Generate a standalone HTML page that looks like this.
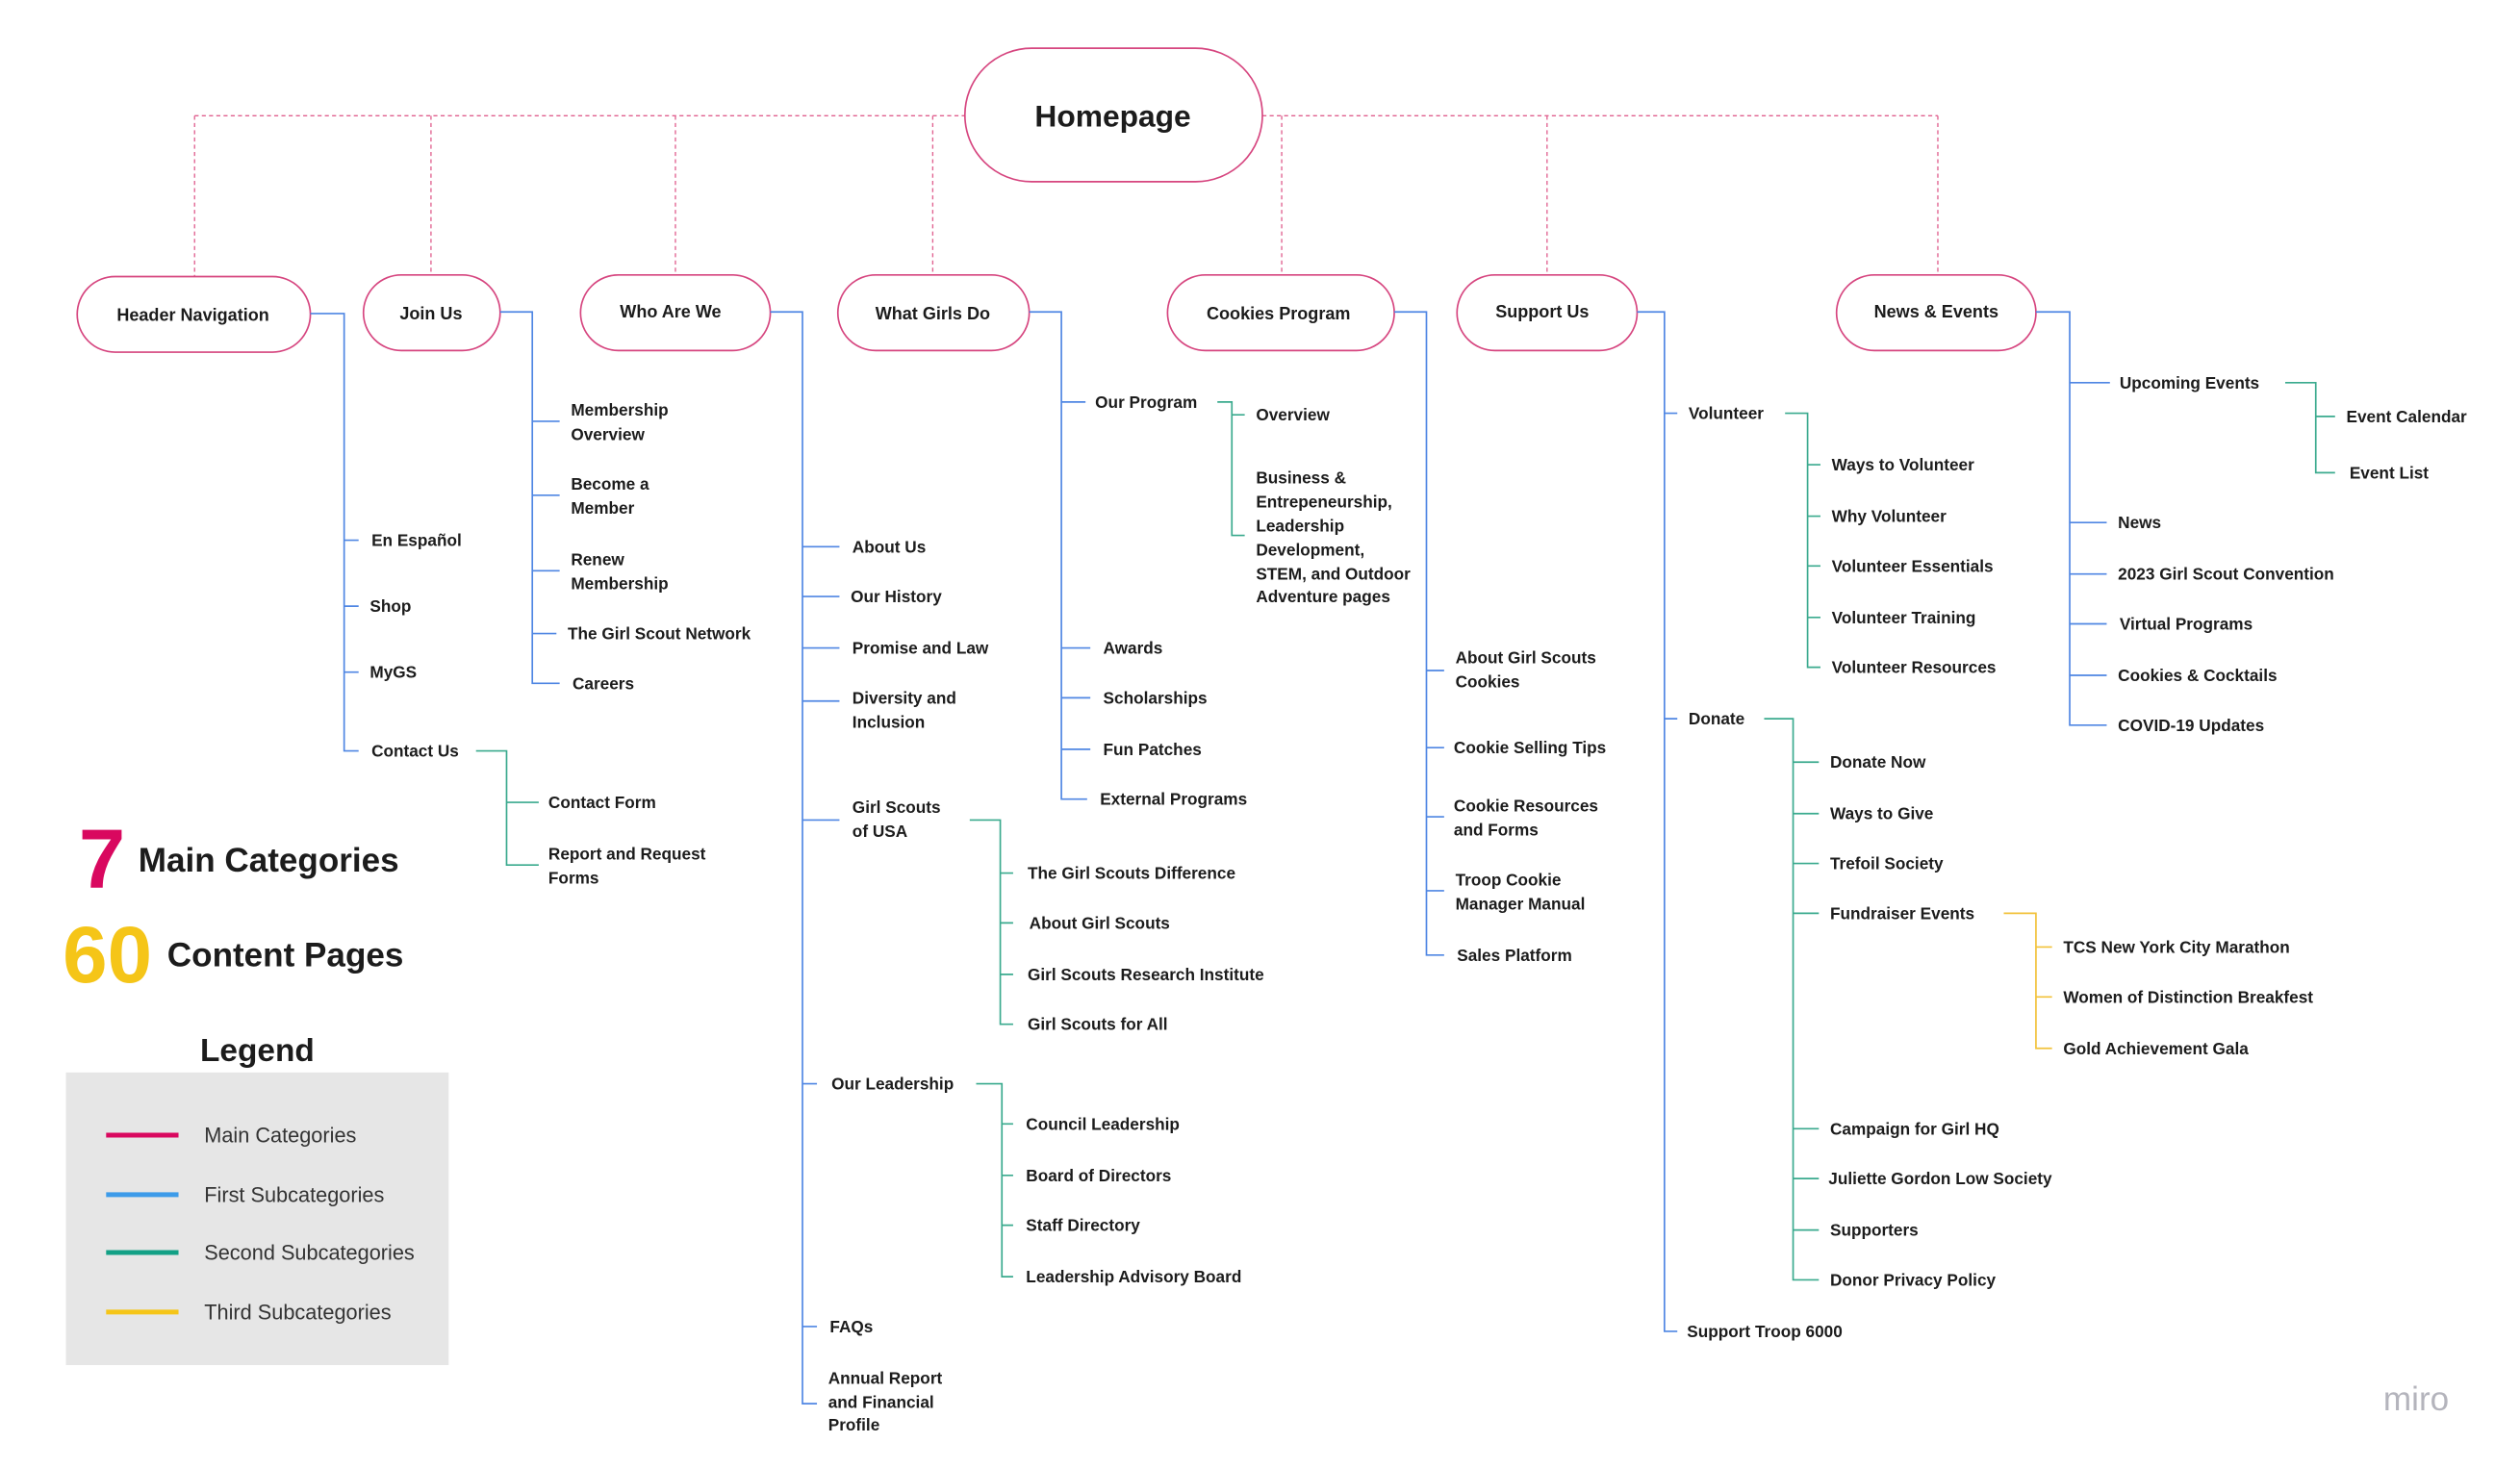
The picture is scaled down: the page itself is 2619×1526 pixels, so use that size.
<!DOCTYPE html>
<html><head><meta charset="utf-8"><style>
html,body{margin:0;padding:0;background:#fff;width:2619px;height:1526px;overflow:hidden}
svg{display:block}
.t{font-family:"Liberation Sans",sans-serif;font-weight:bold;font-size:10.3px;fill:#1c1c1c;dominant-baseline:central}
.n{font-family:"Liberation Sans",sans-serif;font-weight:bold;font-size:10.8px;fill:#1c1c1c;dominant-baseline:central;text-anchor:middle}
.node{fill:#fff;stroke:#d6457f;stroke-width:1}
.b{fill:none;stroke:#4f86e3;stroke-width:1}
.g{fill:none;stroke:#3aaa8e;stroke-width:1}
.y{fill:none;stroke:#f2c23a;stroke-width:1}
.d{fill:none;stroke:#e0608f;stroke-width:0.8;stroke-dasharray:2.5 2}
.lg{font-family:"Liberation Sans",sans-serif;font-size:13px;fill:#333;dominant-baseline:central}
</style></head><body>
<svg width="2619" height="1526" viewBox="0 0 1567 913" preserveAspectRatio="none" xmlns="http://www.w3.org/2000/svg">
<path class="d" d="M121 72H600M785 72H1205M121 72V172M268 72V171M420 72V171M580 72V171M797 72V171M962 72V171M1205 72V171"/>
<rect class="node" x="600" y="30" width="185" height="83" rx="41.5"/>
<text class="n" x="692" y="72" style="font-size:19px">Homepage</text>

<rect class="node" x="48" y="172" width="145" height="47" rx="23.5"/><text class="n" x="120" y="196">Header Navigation</text>
<rect class="node" x="226" y="171" width="85" height="47" rx="23.5"/><text class="n" x="268" y="195">Join Us</text>
<rect class="node" x="361" y="171" width="118" height="47" rx="23.5"/><text class="n" x="417" y="194">Who Are We</text>
<rect class="node" x="521" y="171" width="119" height="47" rx="23.5"/><text class="n" x="580" y="195">What Girls Do</text>
<rect class="node" x="726" y="171" width="141" height="47" rx="23.5"/><text class="n" x="795" y="195">Cookies Program</text>
<rect class="node" x="906" y="171" width="112" height="47" rx="23.5"/><text class="n" x="959" y="194">Support Us</text>
<rect class="node" x="1142" y="171" width="124" height="47" rx="23.5"/><text class="n" x="1204" y="194">News &amp; Events</text>

<path class="b" d="M193 195H214V467H223M214 336H223M214 377H223M214 418H223"/>
<text class="t" x="231" y="336">En Español</text>
<text class="t" x="230" y="377">Shop</text>
<text class="t" x="230" y="418">MyGS</text>
<text class="t" x="231" y="467">Contact Us</text>
<path class="g" d="M296 467H315V538H335M315 499H335"/>
<text class="t" x="341" y="499">Contact Form</text>
<text class="t" x="341" y="531">Report and Request</text>
<text class="t" x="341" y="546">Forms</text>

<path class="b" d="M311 194H331V425H348M331 262H348M331 308H348M331 355H348M331 394H346"/>
<text class="t" x="355" y="255">Membership</text><text class="t" x="355" y="270">Overview</text>
<text class="t" x="355" y="301">Become a</text><text class="t" x="355" y="316">Member</text>
<text class="t" x="355" y="348">Renew</text><text class="t" x="355" y="363">Membership</text>
<text class="t" x="353" y="394">The Girl Scout Network</text>
<text class="t" x="356" y="425">Careers</text>

<path class="b" d="M479 194H499V873H508M499 340H522M499 371H522M499 403H522M499 436H522M499 510H522M499 674H508M499 825H508"/>
<text class="t" x="530" y="340">About Us</text>
<text class="t" x="529" y="371">Our History</text>
<text class="t" x="530" y="403">Promise and Law</text>
<text class="t" x="530" y="434">Diversity and</text><text class="t" x="530" y="449">Inclusion</text>
<text class="t" x="530" y="502">Girl Scouts</text><text class="t" x="530" y="517">of USA</text>
<text class="t" x="517" y="674">Our Leadership</text>
<text class="t" x="516" y="825">FAQs</text>
<text class="t" x="515" y="857">Annual Report</text><text class="t" x="515" y="872">and Financial</text><text class="t" x="515" y="886">Profile</text>
<path class="g" d="M603 510H622V637H630M622 543H630M622 574H630M622 606H630"/>
<text class="t" x="639" y="543">The Girl Scouts Difference</text>
<text class="t" x="640" y="574">About Girl Scouts</text>
<text class="t" x="639" y="606">Girl Scouts Research Institute</text>
<text class="t" x="639" y="637">Girl Scouts for All</text>
<path class="g" d="M607 674H623V794H630M623 699H630M623 731H630M623 762H630"/>
<text class="t" x="638" y="699">Council Leadership</text>
<text class="t" x="638" y="731">Board of Directors</text>
<text class="t" x="638" y="762">Staff Directory</text>
<text class="t" x="638" y="794">Leadership Advisory Board</text>

<path class="b" d="M640 194H660V497H676M660 250H675M660 403H678M660 434H678M660 466H678"/>
<text class="t" x="681" y="250">Our Program</text>
<text class="t" x="686" y="403">Awards</text>
<text class="t" x="686" y="434">Scholarships</text>
<text class="t" x="686" y="466">Fun Patches</text>
<text class="t" x="684" y="497">External Programs</text>
<path class="g" d="M757 250H766V333H774M766 258H774"/>
<text class="t" x="781" y="258">Overview</text>
<text class="t" x="781" y="297">Business &amp;</text>
<text class="t" x="781" y="312">Entrepeneurship,</text>
<text class="t" x="781" y="327">Leadership</text>
<text class="t" x="781" y="342">Development,</text>
<text class="t" x="781" y="357">STEM, and Outdoor</text>
<text class="t" x="781" y="371">Adventure pages</text>

<path class="b" d="M867 194H887V594H898M887 417H898M887 465H898M887 508H898M887 554H898"/>
<text class="t" x="905" y="409">About Girl Scouts</text><text class="t" x="905" y="424">Cookies</text>
<text class="t" x="904" y="465">Cookie Selling Tips</text>
<text class="t" x="904" y="501">Cookie Resources</text><text class="t" x="904" y="516">and Forms</text>
<text class="t" x="905" y="547">Troop Cookie</text><text class="t" x="905" y="562">Manager Manual</text>
<text class="t" x="906" y="594">Sales Platform</text>

<path class="b" d="M1018 194H1035V828H1043M1035 257H1043M1035 447H1043"/>
<text class="t" x="1050" y="257">Volunteer</text>
<text class="t" x="1050" y="447">Donate</text>
<text class="t" x="1049" y="828">Support Troop 6000</text>
<path class="g" d="M1110 257H1124V415H1132M1124 289H1132M1124 321H1132M1124 352H1132M1124 384H1132"/>
<text class="t" x="1139" y="289">Ways to Volunteer</text>
<text class="t" x="1139" y="321">Why Volunteer</text>
<text class="t" x="1139" y="352">Volunteer Essentials</text>
<text class="t" x="1139" y="384">Volunteer Training</text>
<text class="t" x="1139" y="415">Volunteer Resources</text>
<path class="g" d="M1097 447H1115V796H1131M1115 474H1131M1115 506H1131M1115 537H1131M1115 568H1131M1115 702H1131M1115 733H1131M1115 765H1131"/>
<text class="t" x="1138" y="474">Donate Now</text>
<text class="t" x="1138" y="506">Ways to Give</text>
<text class="t" x="1138" y="537">Trefoil Society</text>
<text class="t" x="1138" y="568">Fundraiser Events</text>
<text class="t" x="1138" y="702">Campaign for Girl HQ</text>
<text class="t" x="1137" y="733">Juliette Gordon Low Society</text>
<text class="t" x="1138" y="765">Supporters</text>
<text class="t" x="1138" y="796">Donor Privacy Policy</text>
<path class="y" d="M1246 568H1266V652H1276M1266 589H1276M1266 620H1276"/>
<text class="t" x="1283" y="589">TCS New York City Marathon</text>
<text class="t" x="1283" y="620">Women of Distinction Breakfest</text>
<text class="t" x="1283" y="652">Gold Achievement Gala</text>

<path class="b" d="M1266 194H1287V451H1310M1287 238H1312M1287 325H1310M1287 357H1310M1287 388H1310M1287 420H1310"/>
<text class="t" x="1318" y="238">Upcoming Events</text>
<text class="t" x="1317" y="325">News</text>
<text class="t" x="1317" y="357">2023 Girl Scout Convention</text>
<text class="t" x="1318" y="388">Virtual Programs</text>
<text class="t" x="1317" y="420">Cookies &amp; Cocktails</text>
<text class="t" x="1317" y="451">COVID-19 Updates</text>
<path class="g" d="M1421 238H1440V294H1452M1440 259H1452"/>
<text class="t" x="1459" y="259">Event Calendar</text>
<text class="t" x="1461" y="294">Event List</text>

<text x="49" y="552" style="font-family:'Liberation Sans',sans-serif;font-weight:bold;font-size:52px;fill:#d9085f">7</text>
<text x="86" y="542" style="font-family:'Liberation Sans',sans-serif;font-weight:bold;font-size:21px;fill:#1c1c1c">Main Categories</text>
<text x="39" y="611" style="font-family:'Liberation Sans',sans-serif;font-weight:bold;font-size:50px;fill:#f5c518">60</text>
<text x="104" y="601" style="font-family:'Liberation Sans',sans-serif;font-weight:bold;font-size:21px;fill:#1c1c1c">Content Pages</text>
<text x="160" y="660" text-anchor="middle" style="font-family:'Liberation Sans',sans-serif;font-weight:bold;font-size:20px;fill:#1c1c1c">Legend</text>
<rect x="41" y="667" width="238" height="182" fill="#e6e6e6"/>
<path d="M66 706H111" stroke="#d9085f" stroke-width="3"/>
<path d="M66 743H111" stroke="#3d9be9" stroke-width="3"/>
<path d="M66 779H111" stroke="#12a085" stroke-width="3"/>
<path d="M66 816H111" stroke="#f5c518" stroke-width="3"/>
<text class="lg" x="127" y="706">Main Categories</text>
<text class="lg" x="127" y="743">First Subcategories</text>
<text class="lg" x="127" y="779">Second Subcategories</text>
<text class="lg" x="127" y="816">Third Subcategories</text>
<text x="1482" y="877" style="font-family:'Liberation Sans',sans-serif;font-size:21px;fill:#b4b4bc">miro</text>
</svg>
</body></html>
